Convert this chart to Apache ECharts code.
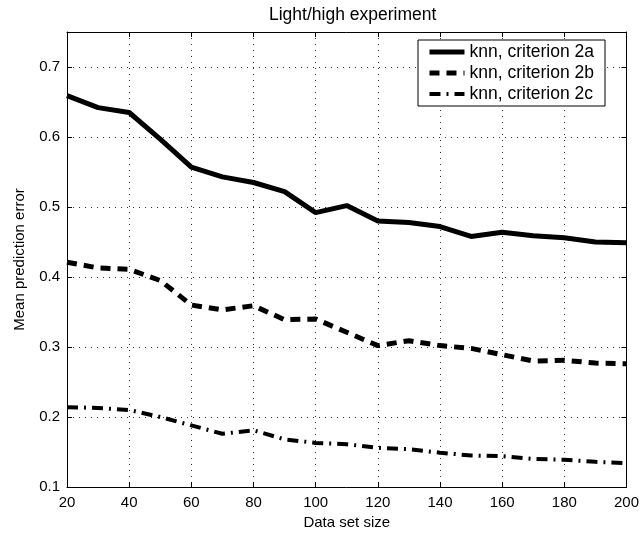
<!DOCTYPE html>
<html>
<head>
<meta charset="utf-8">
<script src="https://cdn.jsdelivr.net/npm/echarts@6/dist/echarts.min.js"></script>
<style>
  html, body { margin: 0; padding: 0; background: #fff; }
  #chart { width: 642px; height: 538px; }
</style>
</head>
<body>
<div id="chart"></div>
<script>
// data set sizes
var sizes = [20, 30, 40, 50, 60, 70, 80, 90, 100, 110, 120, 130, 140, 150, 160, 170, 180, 190, 200];
// mean prediction error per criterion
var crit2a = [0.659, 0.642, 0.635, 0.597, 0.557, 0.543, 0.535, 0.522, 0.492, 0.502, 0.480, 0.478, 0.472, 0.458, 0.464, 0.459, 0.456, 0.450, 0.449];
var crit2b = [0.421, 0.413, 0.411, 0.395, 0.360, 0.353, 0.359, 0.339, 0.340, 0.321, 0.302, 0.309, 0.302, 0.298, 0.289, 0.280, 0.281, 0.277, 0.276];
var crit2c = [0.214, 0.213, 0.210, 0.200, 0.188, 0.176, 0.181, 0.168, 0.163, 0.161, 0.156, 0.154, 0.149, 0.145, 0.144, 0.140, 0.139, 0.136, 0.134];
var names = ['knn, criterion 2a', 'knn, criterion 2b', 'knn, criterion 2c'];

var font = 'Liberation Sans';

function pairs(vals) {
    var res = [];
    for (var i = 0; i < sizes.length; i++) {
        res.push([sizes[i], vals[i]]);
    }
    return res;
}

var myChart = echarts.init(document.getElementById('chart'));

var gridLine = { show: true, lineStyle: { color: '#000', width: 1, type: [1, 5], opacity: 0.8 } };
var styles = [
    { width: 5, type: 'solid' },
    { width: 5, type: [10, 7] },
    { width: 4, type: [11, 6, 2, 6] }
];

var option = {
    animation: false,
    backgroundColor: '#fff',
    textStyle: { fontFamily: font, color: '#000' },
    title: {
        text: 'Light/high experiment',
        left: 264,
        top: 1,
        textStyle: { fontFamily: font, fontSize: 17.5, fontWeight: 'normal', color: '#000' }
    },
    legend: {
        orient: 'vertical',
        right: 37,
        top: 40,
        backgroundColor: '#fff',
        borderColor: '#000',
        borderWidth: 1,
        borderRadius: 0,
        padding: [3, 11, 3, 9],
        itemGap: 3,
        itemWidth: 35,
        itemHeight: 14,
        itemStyle: { opacity: 0 },
        textStyle: { fontFamily: font, fontSize: 17.5, color: '#000' },
        data: names.map(function (n, i) {
            return { name: n, lineStyle: { color: '#000', width: styles[i].width, type: styles[i].type } };
        })
    },
    grid: { left: 67, right: 15, top: 32, bottom: 51 },
    xAxis: [{
        type: 'value',
        min: 20, max: 200, interval: 20,
        name: 'Data set size',
        nameLocation: 'middle',
        nameGap: 26,
        nameTextStyle: { fontFamily: font, fontSize: 15, color: '#000' },
        axisLine: { show: true, lineStyle: { color: '#000', width: 1 } },
        axisTick: { show: true, inside: true, length: 5, lineStyle: { color: '#000' } },
        axisLabel: { fontFamily: font, fontSize: 15, color: '#000', margin: 8 },
        splitLine: gridLine
    }, {
        type: 'value', position: 'top',
        min: 20, max: 200, interval: 20,
        axisLine: { show: true, lineStyle: { color: '#000', width: 1 } },
        axisTick: { show: true, inside: true, length: 5, lineStyle: { color: '#000' } },
        axisLabel: { show: false },
        splitLine: { show: false }
    }],
    yAxis: [{
        type: 'value',
        min: 0.1, max: 0.75, interval: 0.1,
        name: 'Mean prediction error',
        nameLocation: 'middle',
        nameGap: 40,
        nameTextStyle: { fontFamily: font, fontSize: 15, color: '#000' },
        axisLine: { show: true, lineStyle: { color: '#000', width: 1 } },
        axisTick: { show: true, inside: true, length: 5, lineStyle: { color: '#000' } },
        axisLabel: { fontFamily: font, fontSize: 15, color: '#000', margin: 7, showMaxLabel: false },
        splitLine: gridLine
    }, {
        type: 'value', position: 'right',
        min: 0.1, max: 0.75, interval: 0.1,
        axisLine: { show: true, lineStyle: { color: '#000', width: 1 } },
        axisTick: { show: true, inside: true, length: 5, lineStyle: { color: '#000' } },
        axisLabel: { show: false },
        splitLine: { show: false }
    }],
    series: [crit2a, crit2b, crit2c].map(function (vals, i) {
        return {
            name: names[i],
            type: 'line',
            symbol: 'none',
            data: pairs(vals),
            itemStyle: { color: '#000' },
            lineStyle: { color: '#000', width: styles[i].width, type: styles[i].type }
        };
    })
};

myChart.setOption(option);
window.addEventListener('resize', function () {
    myChart.resize();
});
</script>
</body>
</html>
